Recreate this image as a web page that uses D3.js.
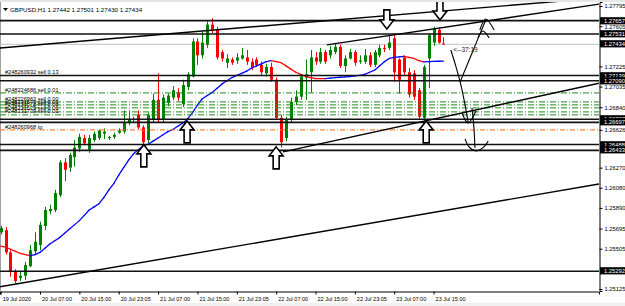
<!DOCTYPE html>
<html>
<head>
<meta charset="utf-8">
<script src="https://d3js.org/d3.v7.min.js"></script>
<style>
  body { margin: 0; background: #fff; }
  svg { display: block; font-family: "Liberation Sans", Arial, sans-serif; }
</style>
</head>
<body>
<svg id="chart" width="625" height="306"></svg>
<script>
// ---- data (GBPUSD H1) ----
const titleText = "GBPUSD,H1  1.27442 1.27501 1.27430 1.27434";

const opens = [1.2566,1.2568,1.2547,1.2529,1.2523,1.2525,1.2534,1.2548,1.2554,1.2572,
  1.2586,1.2587,1.2601,1.2632,1.2627,1.2637,1.2645,1.2655,1.2644,1.2653,
  1.2655,1.2659,1.2655,1.2656,1.2660,1.2661,1.2669,1.2672,1.2677,1.2665,
  1.2653,1.2672,1.2691,1.2672,1.2688,1.2693,1.2698,1.2687,1.2703,1.2713,
  1.2746,1.2733,1.2743,1.2762,1.2757,1.2736,1.2726,1.2729,1.2728,1.2730,
  1.2731,1.2727,1.2729,1.2724,1.2716,1.2722,1.2710,1.2674,1.2655,1.2672,
  1.2689,1.2694,1.2712,1.2717,1.2731,1.2727,1.2736,1.2733,1.2736,1.2741,
  1.2723,1.2730,1.2736,1.2727,1.2727,1.2733,1.2724,1.2733,1.2740,1.2740,
  1.2749,1.2729,1.2731,1.2717,1.2716,1.2700,1.2674,1.2730,1.2745,1.2757,
  1.27442];
const highs = [1.2572,1.2571,1.2549,1.2531,1.2529,1.2538,1.2554,1.2566,1.2576,1.2590,
  1.2592,1.2606,1.2634,1.2636,1.2641,1.2653,1.2659,1.2658,1.2658,1.2661,
  1.2663,1.2664,1.2657,1.2660,1.2664,1.2681,1.2681,1.2675,1.2681,1.2667,
  1.2679,1.2697,1.2716,1.2696,1.2697,1.2704,1.2702,1.2710,1.2717,1.2749,
  1.2749,1.2755,1.2765,1.2768,1.2760,1.2738,1.2734,1.2731,1.2735,1.2740,
  1.2738,1.2730,1.2731,1.2727,1.2725,1.2726,1.2712,1.2677,1.2675,1.2693,
  1.2700,1.2715,1.2729,1.2738,1.2736,1.2740,1.2738,1.2742,1.2744,1.2743,
  1.2733,1.2739,1.2738,1.2733,1.2739,1.2736,1.2738,1.2743,1.2743,1.2752,
  1.2752,1.2730,1.2733,1.2721,1.2719,1.2702,1.2724,1.2754,1.2760,1.2759,
  1.27501];
const lows = [1.2564,1.2545,1.2524,1.2518,1.2520,1.2521,1.2533,1.2545,1.2549,1.2568,
  1.2583,1.2585,1.2599,1.2614,1.2623,1.2628,1.2642,1.2648,1.2641,1.2651,
  1.2653,1.2654,1.2653,1.2654,1.2659,1.2659,1.2667,1.2670,1.2663,1.2648,
  1.2650,1.2670,1.2670,1.2670,1.2685,1.2691,1.2690,1.2684,1.2700,1.2712,
  1.2724,1.2730,1.2740,1.2754,1.2729,1.2727,1.2721,1.2724,1.2725,1.2729,
  1.2724,1.2719,1.2722,1.2714,1.2713,1.2708,1.2672,1.2646,1.2652,1.2669,
  1.2686,1.2691,1.2691,1.2698,1.2724,1.2725,1.2725,1.2730,1.2734,1.2721,
  1.2717,1.2729,1.2723,1.2725,1.2725,1.2722,1.2722,1.2731,1.2736,1.2738,
  1.2708,1.2697,1.2714,1.2693,1.2691,1.2672,1.2671,1.2702,1.2742,1.2744,
  1.27430];
const closes = [1.2570,1.2547,1.2529,1.2520,1.2525,1.2535,1.2549,1.2557,1.2573,1.2587,
  1.2588,1.2603,1.2632,1.2625,1.2639,1.2646,1.2656,1.2650,1.2655,1.2659,
  1.2662,1.2661,1.2656,1.2658,1.2662,1.2670,1.2672,1.2673,1.2665,1.2651,
  1.2677,1.2691,1.2672,1.2693,1.2695,1.2700,1.2693,1.2705,1.2715,1.2746,
  1.2733,1.2745,1.2762,1.2757,1.2731,1.2730,1.2730,1.2726,1.2731,1.2733,
  1.2727,1.2721,1.2724,1.2717,1.2722,1.2710,1.2674,1.2651,1.2672,1.2689,
  1.2694,1.2713,1.2715,1.2731,1.2727,1.2736,1.2727,1.2738,1.2741,1.2723,
  1.2730,1.2736,1.2726,1.2728,1.2733,1.2724,1.2736,1.2740,1.2739,1.2745,
  1.2717,1.2710,1.2717,1.2696,1.2694,1.2675,1.2722,1.2752,1.2758,1.2745,
  1.27434];

// colour-changing moving average
const maValues = [1.2553,1.2552,1.2550,1.2548,1.2546,1.2545,1.2544,1.2545,1.2547,1.2551,
  1.2555,1.2558,1.2561,1.2565,1.2569,1.2573,1.2577,1.2582,1.2587,1.2590,
  1.2593,1.2599,1.2606,1.2612,1.2620,1.2627,1.2634,1.2640,1.2644,1.2648,
  1.2649,1.2652,1.2655,1.2658,1.2661,1.2663,1.2666,1.2669,1.2673,1.2679,
  1.2686,1.2692,1.2695,1.2698,1.2702,1.2706,1.2709,1.2712,1.2714,1.2716,
  1.2718,1.2721,1.2723,1.2725,1.2727,1.2728,1.2727,1.2726,1.2723,1.2720,
  1.2717,1.2715,1.2713,1.2712,1.2711,1.2711,1.2711,1.27115,1.2712,1.27123,
  1.27126,1.2713,1.27135,1.2714,1.2715,1.2717,1.2719,1.2723,1.2727,1.2730,
  1.2731,1.27315,1.2732,1.2731,1.2730,1.2728,1.27268,1.2727,1.27272,1.27274,
  1.27275];

const timeTickBars = [0, 8, 16, 24, 32, 40, 48, 56, 64, 72, 80, 88];
const timeLabels = ["19 Jul 2020", "20 Jul 07:00", "20 Jul 15:00", "20 Jul 23:05",
  "21 Jul 07:00", "21 Jul 15:00", "21 Jul 23:05", "22 Jul 07:00", "22 Jul 15:00",
  "22 Jul 23:05", "23 Jul 07:00", "23 Jul 15:00"];

const priceTicks = [1.27795, 1.27605, 1.27225, 1.27035, 1.26840, 1.26626, 1.26270,
  1.26080, 1.25890, 1.25695, 1.25505, 1.25125];
const markedPrices = [1.27657, 1.27531, 1.27434, 1.27139, 1.27090, 1.26727, 1.26697,
  1.26488, 1.26433, 1.25292];

const levelPrices = [1.27657, 1.27531, 1.27139, 1.27090, 1.26727, 1.26697, 1.26488,
  1.26433, 1.25292];
const bidPrice = 1.27434;

const mainOrderPrice = 1.27139;
const mainOrderTag = "#248260932 sell 0.13";
const orderPrices = [1.26975, 1.26890, 1.26862, 1.26834, 1.26796, 1.26768];
const orderTags = ["#248224686 sell 0.01", "#248226963 sell 0.00", "#248231571 sell 0.01",
  "#248231572 sell 0.01", "#248231573 sell 0.01", "#248231739 sell 0.01"];
const tpPrice = 1.26626;
const tpTag = "#248260968 tp";

// trend lines as [bar, price] anchors; ray = starts at first anchor
const trendLines = [
  { pts: [[0, 1.2740], [80, 1.2771]], ray: false },
  { pts: [[0, 1.25147], [80, 1.25784]], ray: false },
  { pts: [[66.3, 1.27428], [99.5, 1.27659]], ray: true },
  { pts: [[57.4, 1.26419], [121.8, 1.27069]], ray: true }
];

const upArrows = [[29.1, 1.26485], [37.9, 1.26711], [56.0, 1.26466], [86.5, 1.26711]];
const downArrows = [[78.5, 1.27579], [89.3, 1.27663]];

// freehand sketch strokes, [bar, price]
const sketchStrokes = [
  [[91.5, 1.2738], [92.5, 1.2723], [93.6, 1.2704], [94.4, 1.2686], [95.0, 1.2670]],
  [[93.8, 1.26786], [95.0, 1.26692], [96.6, 1.26805]],
  [[93.4, 1.27079], [95.4, 1.27305], [98.6, 1.27663]],
  [[97.4, 1.27569], [98.6, 1.27673], [100.3, 1.27569]],
  [[97.0, 1.27494], [98.0, 1.27560], [99.3, 1.27494]],
  [[95.8, 1.26834], [96.2, 1.26645], [96.4, 1.26456]],
  [[94.4, 1.26541], [95.2, 1.26466], [96.6, 1.26428], [98.0, 1.26456], [99.1, 1.26522]]
];
const countdownText = "<--37:19";
const countdownPos = [92.0, 1.27362];

// ---- drawing ----
const W = 625, H = 306;
const plot = { left: 0, right: 599, top: 2, bottom: 291 };
const green = "#008000", red = "#ff0000";

const svg = d3.select("#chart");
const x = d3.scaleLinear().domain([-0.13, 121.62]).range([plot.left, plot.right]);
const y = d3.scaleLinear().domain([1.25106, 1.27833]).range([plot.bottom, plot.top]);

svg.append("rect").attr("width", W).attr("height", H).attr("fill", "#fff");
svg.append("rect").attr("x", 0).attr("y", 0).attr("width", W).attr("height", 2).attr("fill", "#e6e6e6");
svg.append("rect").attr("x", 0).attr("y", 303).attr("width", W).attr("height", 3).attr("fill", "#f0f0f0");
svg.append("line").attr("x1", 0.5).attr("x2", 0.5).attr("y1", plot.top).attr("y2", plot.bottom)
  .attr("stroke", "#a0a0a0");

svg.append("defs").append("clipPath").attr("id", "clip").append("rect")
  .attr("x", plot.left).attr("y", plot.top)
  .attr("width", plot.right - plot.left).attr("height", plot.bottom - plot.top);
const g = svg.append("g").attr("clip-path", "url(#clip)");

// bid line
g.append("line").attr("x1", plot.left).attr("x2", plot.right)
  .attr("y1", y(bidPrice)).attr("y2", y(bidPrice)).attr("stroke", "#c0c0c0");

// candles
const bars = d3.range(opens.length).map(i => ({ i, o: opens[i], h: highs[i], l: lows[i], c: closes[i] }));
const col = d => d.c >= d.o ? green : red;
g.append("g").selectAll("line").data(bars).join("line")
  .attr("x1", d => Math.round(x(d.i)) + 0.5).attr("x2", d => Math.round(x(d.i)) + 0.5)
  .attr("y1", d => y(d.h)).attr("y2", d => y(d.l))
  .attr("stroke", col).attr("stroke-width", 1);
g.append("g").selectAll("rect").data(bars).join("rect")
  .attr("x", d => Math.round(x(d.i)) - 1).attr("width", 3)
  .attr("y", d => y(Math.max(d.o, d.c)))
  .attr("height", d => Math.max(1, Math.abs(y(d.o) - y(d.c))))
  .attr("fill", col);

// moving average, red while falling, blue while rising
let dir = -1;
const maSegs = [];
for (let i = 1; i < maValues.length; i++) {
  if (maValues[i] > maValues[i - 1]) dir = 1;
  else if (maValues[i] < maValues[i - 1]) dir = -1;
  maSegs.push({ a: i - 1, b: i, dir });
}
g.append("g").selectAll("line").data(maSegs).join("line")
  .attr("x1", d => x(d.a)).attr("y1", d => y(maValues[d.a]))
  .attr("x2", d => x(d.b)).attr("y2", d => y(maValues[d.b]))
  .attr("stroke", d => d.dir > 0 ? "#0000ff" : "#ff0000")
  .attr("stroke-width", 1.3).attr("stroke-linecap", "round");

// horizontal levels
g.append("g").selectAll("line").data(levelPrices).join("line")
  .attr("x1", plot.left).attr("x2", plot.right)
  .attr("y1", d => y(d)).attr("y2", d => y(d))
  .attr("stroke", "#111").attr("stroke-width", 1.6);

// order lines
g.append("g").selectAll("line").data(orderPrices).join("line")
  .attr("x1", plot.left).attr("x2", plot.right)
  .attr("y1", d => y(d)).attr("y2", d => y(d))
  .attr("stroke", "#1f8a1f").attr("stroke-width", 1).attr("stroke-dasharray", "6,2,1,2");
g.append("line").attr("x1", plot.left).attr("x2", plot.right)
  .attr("y1", y(tpPrice)).attr("y2", y(tpPrice))
  .attr("stroke", "#ff6a10").attr("stroke-width", 1).attr("stroke-dasharray", "5,2,1,2");

// trend lines
const extend = t => {
  const [[i1, p1], [i2, p2]] = t.pts;
  const k = (p2 - p1) / (i2 - i1);
  const from = t.ray ? i1 : x.domain()[0];
  const to = x.domain()[1];
  return [[from, p1 + k * (from - i1)], [to, p1 + k * (to - i1)]];
};
g.append("g").selectAll("line").data(trendLines.map(extend)).join("line")
  .attr("x1", d => x(d[0][0])).attr("y1", d => y(d[0][1]))
  .attr("x2", d => x(d[1][0])).attr("y2", d => y(d[1][1]))
  .attr("stroke", "#000").attr("stroke-width", 1.4);

// arrows
const upPath = "M0,0 L7,9 L3,9 L3,22 L-3,22 L-3,9 L-7,9 Z";
const downPath = "M0,0 L7,-9 L3,-9 L3,-19 L-3,-19 L-3,-9 L-7,-9 Z";
g.append("g").selectAll("path").data(upArrows).join("path")
  .attr("transform", d => `translate(${x(d[0])},${y(d[1])})`)
  .attr("d", upPath).attr("fill", "#fff").attr("stroke", "#000").attr("stroke-width", 1.6)
  .attr("stroke-linejoin", "miter");
g.append("g").selectAll("path").data(downArrows).join("path")
  .attr("transform", d => `translate(${x(d[0])},${y(d[1])})`)
  .attr("d", downPath).attr("fill", "#fff").attr("stroke", "#000").attr("stroke-width", 1.6);

// freehand sketch
const sketchLine = d3.line().x(d => x(d[0])).y(d => y(d[1])).curve(d3.curveCatmullRom);
g.append("g").selectAll("path").data(sketchStrokes).join("path")
  .attr("d", sketchLine).attr("fill", "none").attr("stroke", "#000").attr("stroke-width", 1.1);

// text objects
const txt = svg.append("g").attr("font-size", 5.6).attr("fill", "#000");
txt.append("text").attr("x", 5).attr("y", y(mainOrderPrice) - 1.6).text(mainOrderTag);
txt.selectAll("text.ord").data(orderPrices).join("text").attr("class", "ord")
  .attr("x", 5).attr("y", d => y(d) - 1.4).text((d, i) => orderTags[i]);
txt.append("text").attr("x", 5).attr("y", y(tpPrice) - 1.4).text(tpTag);
svg.append("text").attr("x", x(countdownPos[0])).attr("y", y(countdownPos[1]))
  .attr("font-size", 6.5).attr("fill", "#222").text(countdownText);

// title
svg.append("path").attr("d", "M3,8 L8,8 L5.5,11 Z").attr("fill", "#000");
svg.append("text").attr("x", 10).attr("y", 12.2).attr("font-size", 6.2).attr("fill", "#000")
  .text(titleText);

// price axis
const yAxis = svg.append("g").attr("transform", `translate(${plot.right + 0.5},0)`)
  .call(d3.axisRight(y).tickValues(priceTicks).tickSize(3).tickPadding(2)
    .tickFormat(d3.format(".5f")));
yAxis.attr("font-size", 5.8).attr("font-family", "Liberation Sans, Arial, sans-serif");
yAxis.select(".domain").attr("stroke", "#000");

const marks = svg.append("g").selectAll("g").data(markedPrices).join("g")
  .attr("transform", d => `translate(${plot.right + 1},${Math.round(y(d))})`);
marks.append("rect").attr("x", 0).attr("y", -3.8).attr("width", 25).attr("height", 7.2).attr("fill", "#000");
marks.append("text").attr("x", 4).attr("y", 2.2).attr("font-size", 5.8).attr("fill", "#fff")
  .text(d => d3.format(".5f")(d));

// time axis
const xAxis = svg.append("g").attr("transform", `translate(0,${plot.bottom + 0.5})`)
  .call(d3.axisBottom(x).tickValues(timeTickBars).tickSize(3).tickPadding(3)
    .tickFormat((d, i) => timeLabels[i]));
xAxis.attr("font-size", 5.5).attr("font-family", "Liberation Sans, Arial, sans-serif");
xAxis.selectAll("text").attr("text-anchor", "start").attr("dx", 1.5);
xAxis.select(".domain").attr("stroke", "#000");
</script>
</body>
</html>
